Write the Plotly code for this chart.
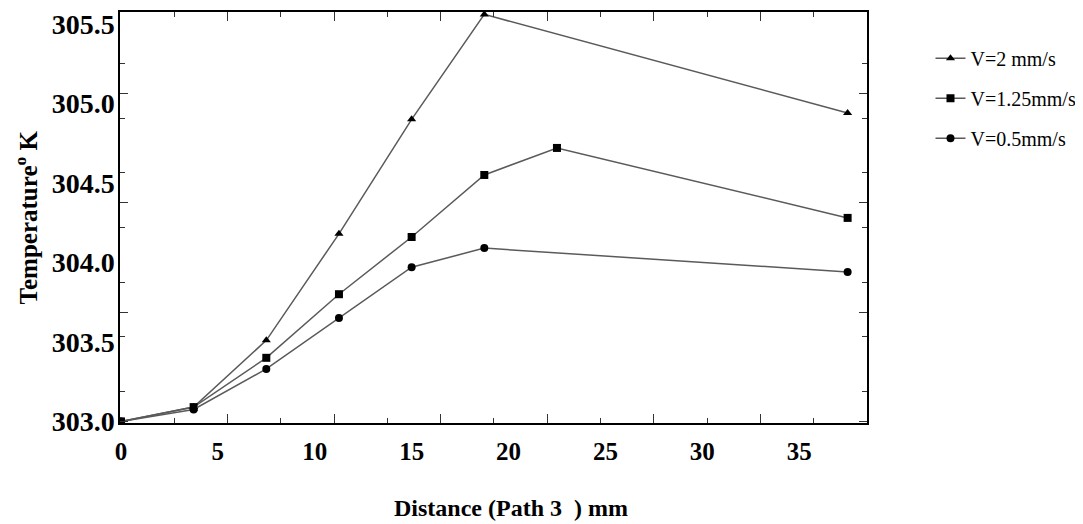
import plotly.graph_objects as go

dist_v2 = [0, 3.75, 7.5, 11.25, 15, 18.75, 37.5]
temp_v2 = [303.0, 303.09, 303.51, 304.18, 304.90, 305.56, 304.94]
dist_v125 = [0, 3.75, 7.5, 11.25, 15, 18.75, 22.5, 37.5]
temp_v125 = [303.0, 303.09, 303.40, 303.80, 304.16, 304.55, 304.72, 304.28]
dist_v05 = [0, 3.75, 7.5, 11.25, 15, 18.75, 37.5]
temp_v05 = [303.0, 303.075, 303.33, 303.65, 303.97, 304.09, 303.94]

series_names = ["V=2 mm/s", "V=1.25mm/s", "V=0.5mm/s"]
x_ticks = [0, 5, 10, 15, 20, 25, 30, 35]
y_ticks = [303.0, 303.5, 304.0, 304.5, 305.0, 305.5]

XR = [-0.05, 38.5]
YR = [302.99, 305.575]

serif = "Liberation Serif, Times New Roman, serif"
line_col = "#5a5a5a"

fig = go.Figure()
for xs, ys, name, sym in [(dist_v2, temp_v2, series_names[0], "triangle-up"),
                          (dist_v125, temp_v125, series_names[1], "square"),
                          (dist_v05, temp_v05, series_names[2], "circle")]:
    fig.add_trace(go.Scatter(
        x=xs, y=ys, name=name, mode="lines+markers", legendgroup=name,
        line=dict(color=line_col, width=1.5),
        marker=dict(symbol=sym, size=8, color="black"),
    ))

# empty trace so the overlay tick-mark axes get drawn
fig.add_trace(go.Scatter(x=[], y=[], xaxis="x2", yaxis="y2", showlegend=False,
                         hoverinfo="skip", mode="lines"))

fig.update_layout(
    width=1075, height=516,
    margin=dict(l=112, r=215, t=2, b=101),
    paper_bgcolor="white", plot_bgcolor="white",
    font=dict(family=serif, color="black"),
    showlegend=True,
    legend=dict(x=1.085, y=0.935, xanchor="left", yanchor="top",
                font=dict(family=serif, size=20, color="black"),
                traceorder="grouped", tracegroupgap=11,
                bgcolor="rgba(0,0,0,0)", borderwidth=0),
    xaxis=dict(range=XR, tickvals=x_ticks, ticktext=[str(v) for v in x_ticks],
               ticks="", showgrid=False, zeroline=False,
               showline=True, mirror=True, linecolor="black", linewidth=1.5,
               tickfont=dict(family=serif, size=25, color="black", weight="bold"),
               ticklabelstandoff=5),
    yaxis=dict(range=YR, tickvals=y_ticks, ticktext=[f"{v:.1f}" for v in y_ticks],
               ticks="", showgrid=False, zeroline=False,
               showline=True, mirror=True, linecolor="black", linewidth=1.5,
               tickfont=dict(family=serif, size=28, color="black", weight="bold"),
               ticklabelstandoff=-2),
    xaxis2=dict(range=XR, overlaying="x", anchor="y2", side="bottom",
                tick0=0, dtick=5.5, ticks="inside", ticklen=9, tickcolor="#333",
                tickwidth=1, showticklabels=False, showgrid=False, zeroline=False,
                mirror="ticks", showline=False,
                minor=dict(dtick=2.75, ticks="inside", ticklen=5, tickcolor="#333", tickwidth=1)),
    yaxis2=dict(range=YR, overlaying="y", anchor="x2", side="left",
                tick0=303.0, dtick=0.6875, ticks="inside", ticklen=8, tickcolor="#333",
                tickwidth=1, showticklabels=False, showgrid=False, zeroline=False,
                mirror="ticks", showline=False,
                minor=dict(dtick=0.34375, ticks="inside", ticklen=5, tickcolor="#333", tickwidth=1)),
    annotations=[
        dict(text="Distance (Path 3  ) mm", xref="paper", yref="paper",
             x=0.523, y=-0.206, xanchor="center", yanchor="middle", showarrow=False,
             font=dict(family=serif, size=24, color="black", weight="bold")),
        dict(text="Temperature<sup>o</sup> K", xref="paper", yref="paper",
             x=-0.126, y=0.5, xanchor="center", yanchor="middle", showarrow=False,
             textangle=-90,
             font=dict(family=serif, size=25, color="black", weight="bold")),
    ],
)

fig.write_html("out.html")
